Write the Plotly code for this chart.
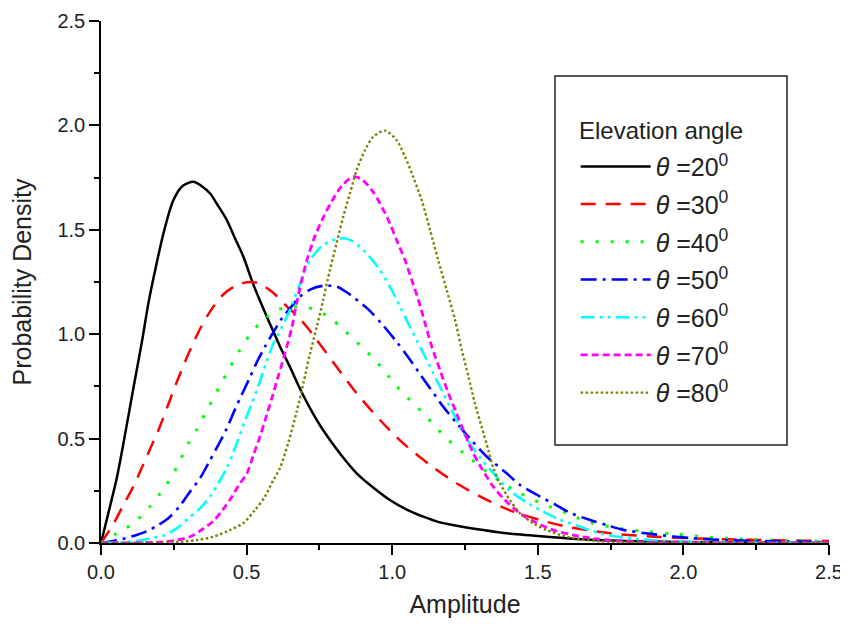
import plotly.graph_objects as go

# ---- data ----
x20 = [0.0, 0.03, 0.054, 0.08, 0.111, 0.14, 0.163, 0.185, 0.214, 0.248, 0.28, 0.317, 0.345, 0.374, 0.40, 0.432, 0.46, 0.489, 0.52, 0.546, 0.58, 0.615, 0.65, 0.683, 0.72, 0.763, 0.82, 0.878, 0.94, 0.992, 1.05, 1.107, 1.16, 1.221, 1.3, 1.4, 1.53, 1.65, 1.8, 2.0, 2.25, 2.5]
y20 = [0.0, 0.17, 0.31, 0.50, 0.74, 0.96, 1.15, 1.30, 1.48, 1.64, 1.71, 1.73, 1.71, 1.675, 1.62, 1.547, 1.46, 1.371, 1.25, 1.16, 1.05, 0.94, 0.84, 0.74, 0.64, 0.54, 0.43, 0.334, 0.26, 0.206, 0.16, 0.126, 0.10, 0.083, 0.065, 0.045, 0.03, 0.018, 0.01, 0.005, 0.002, 0.0]

x30 = [0.0, 0.04, 0.071, 0.111, 0.14, 0.17, 0.2, 0.23, 0.26, 0.3, 0.34, 0.38, 0.42, 0.46, 0.50, 0.54, 0.59, 0.64, 0.672, 0.71, 0.741, 0.809, 0.878, 0.958, 1.038, 1.13, 1.221, 1.325, 1.416, 1.508, 1.60, 1.69, 1.78, 1.9, 2.0, 2.2, 2.41, 2.5]
y30 = [0.0, 0.085, 0.166, 0.27, 0.36, 0.455, 0.55, 0.66, 0.77, 0.905, 1.025, 1.12, 1.19, 1.23, 1.249, 1.245, 1.20, 1.13, 1.09, 1.03, 0.972, 0.844, 0.717, 0.589, 0.477, 0.374, 0.286, 0.206, 0.15, 0.11, 0.078, 0.058, 0.042, 0.03, 0.024, 0.016, 0.011, 0.009]

x40 = [0.0, 0.054, 0.111, 0.168, 0.208, 0.243, 0.271, 0.30, 0.329, 0.357, 0.386, 0.414, 0.443, 0.475, 0.509, 0.557, 0.609, 0.665, 0.724, 0.781, 0.832, 0.889, 0.941, 0.987, 1.032, 1.084, 1.136, 1.187, 1.244, 1.347, 1.43, 1.513, 1.60, 1.68, 1.77, 1.85, 1.96, 2.07, 2.18, 2.35, 2.5]
y40 = [0.0, 0.046, 0.094, 0.174, 0.246, 0.318, 0.394, 0.477, 0.544, 0.618, 0.693, 0.768, 0.841, 0.92, 0.993, 1.068, 1.118, 1.132, 1.122, 1.084, 1.023, 0.948, 0.876, 0.80, 0.725, 0.653, 0.576, 0.501, 0.432, 0.318, 0.245, 0.19, 0.142, 0.098, 0.072, 0.058, 0.044, 0.03, 0.02, 0.012, 0.008]

x50 = [0.0, 0.06, 0.122, 0.157, 0.197, 0.237, 0.271, 0.30, 0.34, 0.37, 0.397, 0.432, 0.46, 0.483, 0.512, 0.535, 0.563, 0.592, 0.621, 0.649, 0.683, 0.72, 0.763, 0.809, 0.85, 0.872, 0.918, 0.964, 1.015, 1.055, 1.095, 1.13, 1.175, 1.221, 1.267, 1.325, 1.387, 1.439, 1.508, 1.559, 1.61, 1.68, 1.737, 1.79, 1.908, 2.02, 2.14, 2.32, 2.5]
y50 = [0.0, 0.015, 0.038, 0.056, 0.086, 0.126, 0.178, 0.235, 0.31, 0.385, 0.454, 0.549, 0.64, 0.709, 0.795, 0.865, 0.94, 1.01, 1.075, 1.124, 1.18, 1.215, 1.232, 1.228, 1.195, 1.172, 1.119, 1.05, 0.964, 0.89, 0.81, 0.741, 0.653, 0.575, 0.50, 0.413, 0.341, 0.278, 0.222, 0.185, 0.145, 0.11, 0.086, 0.064, 0.04, 0.024, 0.014, 0.008, 0.004]

x60 = [0.0, 0.1, 0.168, 0.214, 0.26, 0.30, 0.34, 0.374, 0.403, 0.432, 0.466, 0.495, 0.517, 0.54, 0.569, 0.59, 0.62, 0.65, 0.68, 0.718, 0.763, 0.821, 0.861, 0.912, 0.958, 0.992, 1.027, 1.055, 1.084, 1.113, 1.141, 1.17, 1.198, 1.233, 1.267, 1.307, 1.37, 1.416, 1.473, 1.508, 1.565, 1.645, 1.714, 1.817, 2.0, 2.5]
y60 = [0.0, 0.006, 0.022, 0.035, 0.07, 0.118, 0.166, 0.222, 0.286, 0.36, 0.477, 0.589, 0.665, 0.75, 0.87, 0.948, 1.03, 1.12, 1.23, 1.355, 1.427, 1.459, 1.448, 1.387, 1.307, 1.228, 1.132, 1.052, 0.972, 0.892, 0.813, 0.733, 0.653, 0.557, 0.475, 0.40, 0.30, 0.238, 0.185, 0.158, 0.118, 0.078, 0.046, 0.022, 0.006, 0.0]

x70 = [0.0, 0.2, 0.26, 0.306, 0.34, 0.386, 0.42, 0.449, 0.477, 0.50, 0.523, 0.546, 0.563, 0.586, 0.609, 0.632, 0.655, 0.672, 0.683, 0.706, 0.735, 0.763, 0.792, 0.827, 0.866, 0.895, 0.93, 0.958, 0.992, 1.015, 1.044, 1.067, 1.09, 1.113, 1.136, 1.164, 1.193, 1.221, 1.244, 1.273, 1.302, 1.347, 1.387, 1.439, 1.49, 1.553, 1.622, 1.7, 1.8, 2.0, 2.5]
y70 = [0.0, 0.004, 0.014, 0.03, 0.058, 0.105, 0.162, 0.22, 0.285, 0.33, 0.42, 0.51, 0.585, 0.69, 0.80, 0.91, 1.03, 1.15, 1.22, 1.35, 1.47, 1.558, 1.635, 1.71, 1.754, 1.742, 1.69, 1.627, 1.531, 1.451, 1.355, 1.26, 1.164, 1.052, 0.94, 0.829, 0.717, 0.621, 0.541, 0.445, 0.37, 0.27, 0.206, 0.142, 0.10, 0.062, 0.038, 0.02, 0.008, 0.002, 0.0]

x80 = [0.0, 0.25, 0.329, 0.386, 0.443, 0.489, 0.529, 0.563, 0.592, 0.615, 0.643, 0.672, 0.695, 0.718, 0.741, 0.763, 0.786, 0.809, 0.832, 0.855, 0.878, 0.907, 0.935, 0.975, 1.015, 1.044, 1.072, 1.101, 1.13, 1.158, 1.187, 1.216, 1.239, 1.262, 1.284, 1.307, 1.33, 1.347, 1.37, 1.404, 1.439, 1.485, 1.53, 1.60, 1.7, 1.8, 2.5]
y80 = [0.0, 0.004, 0.014, 0.03, 0.062, 0.096, 0.158, 0.222, 0.302, 0.36, 0.48, 0.63, 0.765, 0.908, 1.036, 1.164, 1.307, 1.435, 1.563, 1.675, 1.786, 1.882, 1.946, 1.975, 1.93, 1.85, 1.754, 1.643, 1.499, 1.355, 1.212, 1.068, 0.924, 0.797, 0.669, 0.557, 0.445, 0.36, 0.286, 0.206, 0.142, 0.094, 0.062, 0.03, 0.01, 0.004, 0.0]

angles = [20, 30, 40, 50, 60, 70, 80]
xs = [x20, x30, x40, x50, x60, x70, x80]
ys = [y20, y30, y40, y50, y60, y70, y80]
legend_title = "Elevation angle"
colors = ["#000000", "#ff0000", "#00ff00", "#0000ff", "#00ffff", "#ff00ff", "#808000"]
dashes = ["solid", "15px,10px", "3px,12px", "16px,6px,3px,6px", "14px,5px,3px,5px,3px,5px", "7px,4px", "2.5px,2.5px"]
widths = [2.5, 2.5, 3.0, 2.6, 2.6, 2.8, 2.4]

FONT = "Liberation Sans, Arial"

fig = go.Figure()
for a, x, y, c, d, w in zip(angles, xs, ys, colors, dashes, widths):
    fig.add_trace(go.Scatter(
        x=x, y=y, mode="lines",
        line=dict(color=c, dash=d, width=w, shape="spline", smoothing=0.8),
        name="<i>θ</i> =%d<sup>0</sup>" % a, legendgroup=str(a),
    ))

axis_common = dict(
    showline=True, linecolor="black", linewidth=1.5, mirror=False,
    ticks="outside", ticklen=10, tickwidth=1.5, tickcolor="black",
    showgrid=False, zeroline=False, tickformat=".1f", automargin=False,
    ticklabelstandoff=0,
    tickfont=dict(family=FONT, size=20, color="#222"),
    minor=dict(ticks="outside", ticklen=5, tickwidth=1.5, tickcolor="black", dtick=0.25, showgrid=False),
    range=[0, 2.5], dtick=0.5, tick0=0,
)

# the page body has an 8px margin, so the figure is 8px smaller and shifted
fig.update_layout(
    width=840, height=621,
    margin=dict(l=93, r=19, t=13, b=86),
    paper_bgcolor="white", plot_bgcolor="white",
    font=dict(family=FONT, size=22, color="#222"),
    xaxis=dict(axis_common, title=dict(text="Amplitude", font=dict(size=25), standoff=14)),
    yaxis=dict(axis_common, title=dict(text="Probability Density", font=dict(size=25), standoff=20)),
    legend=dict(
        x=0.652, y=0.765, xanchor="left", yanchor="top",
        borderwidth=0, bgcolor="rgba(255,255,255,0)",
        font=dict(size=25, family=FONT, color="#222"),
        tracegroupgap=2.2, itemwidth=70,
    ),
    shapes=[dict(type="rect", xref="paper", yref="paper",
                 x0=0.6236, x1=0.9423, y0=0.1877, y1=0.8946,
                 line=dict(color="#222", width=1.5), fillcolor="white", layer="below")],
    annotations=[dict(text=legend_title, xref="paper", yref="paper", x=0.654, y=0.791,
                      xanchor="left", yanchor="middle", showarrow=False,
                      font=dict(size=24, family=FONT, color="#222"))],
    showlegend=True,
)

fig.write_html("out.html")
